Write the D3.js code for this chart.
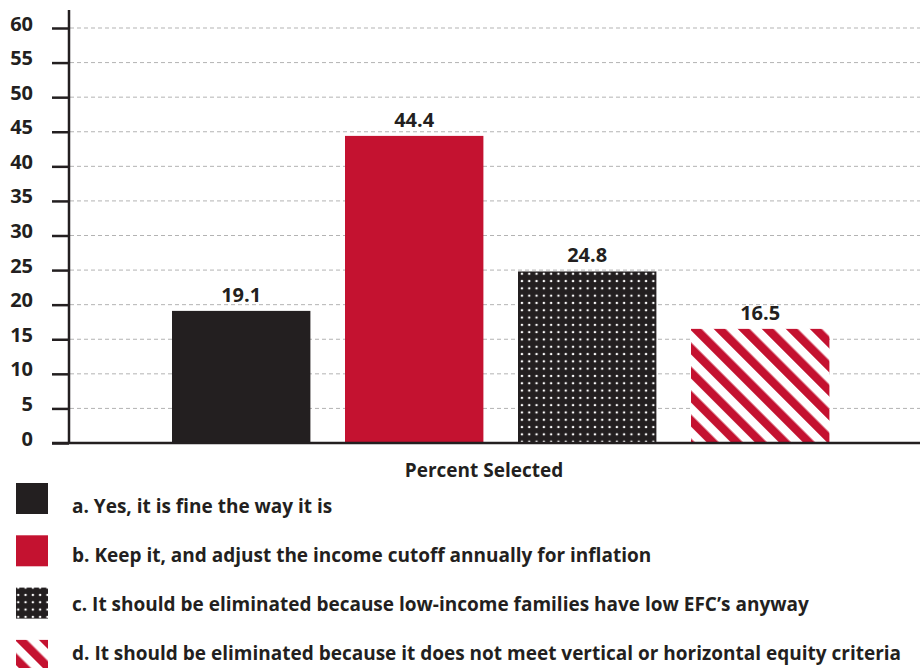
<!DOCTYPE html>
<html>
<head>
<meta charset="utf-8">
<script src="https://cdn.jsdelivr.net/npm/d3@7/dist/d3.min.js"></script>
<style>
  html, body { margin: 0; padding: 0; background: #fff; }
  svg { display: block; font-family: "Open Sans", "Noto Sans", sans-serif; font-weight: 700; }
</style>
</head>
<body>
<svg id="chart" width="922" height="668"></svg>
<script>
// Survey responses: percent selecting each option
const categories = ["a", "b", "c", "d"];
const values = [19.1, 44.4, 24.8, 16.5];
const legendLabels = [
  "a. Yes, it is fine the way it is",
  "b. Keep it, and adjust the income cutoff annually for inflation",
  "c. It should be eliminated because low-income families have low EFC\u2019s anyway",
  "d. It should be eliminated because it does not meet vertical or horizontal equity criteria"
];
const yTicks = [0, 5, 10, 15, 20, 25, 30, 35, 40, 45, 50, 55, 60];
const axisTitle = "Percent Selected";

const INK = "#231f20";
const RED = "#c41230";

const svg = d3.select("#chart");
const defs = svg.append("defs");

// White dots on black
const dots = defs.append("pattern")
  .attr("id", "dots").attr("patternUnits", "userSpaceOnUse")
  .attr("width", 7.3).attr("height", 7.3);
dots.append("rect").attr("width", 7.3).attr("height", 7.3).attr("fill", INK);
dots.append("circle").attr("cx", 3.65).attr("cy", 3.65).attr("r", 1.25).attr("fill", "#fff");

// Red / white diagonal stripes
const stripes = defs.append("pattern")
  .attr("id", "stripes").attr("patternUnits", "userSpaceOnUse")
  .attr("width", 17).attr("height", 17)
  .attr("patternTransform", "rotate(-45)");
stripes.append("rect").attr("width", 17).attr("height", 17).attr("fill", "#fff");
stripes.append("rect").attr("width", 8.5).attr("height", 17).attr("fill", RED);

const fills = [INK, RED, "url(#dots)", "url(#stripes)"];

const axisX = 69, rightX = 920;
const y = d3.scaleLinear().domain([0, 60]).range([443, 28]);
const x = d3.scaleBand().domain(categories).range([154.7, 846.7])
  .paddingInner(0.2).paddingOuter(0.1);

// Dashed gridlines
svg.append("g").selectAll("line")
  .data(yTicks.filter(d => d > 0))
  .join("line")
  .attr("x1", axisX + 1).attr("x2", rightX)
  .attr("y1", d => y(d)).attr("y2", d => y(d))
  .attr("stroke", "#b3b3b3").attr("stroke-width", 1)
  .attr("stroke-dasharray", "4,3");

// Bars
svg.append("g").selectAll("rect")
  .data(values)
  .join("rect")
  .attr("x", (d, i) => x(categories[i]))
  .attr("width", x.bandwidth())
  .attr("y", d => y(d))
  .attr("height", d => y(0) - y(d))
  .attr("fill", (d, i) => fills[i]);

// Value labels
svg.append("g").selectAll("text")
  .data(values)
  .join("text")
  .attr("x", (d, i) => x(categories[i]) + x.bandwidth() / 2)
  .attr("y", d => y(d) - 9)
  .attr("text-anchor", "middle")
  .attr("font-size", 20)
  .attr("fill", INK)
  .text(d => d.toFixed(1));

// Y axis
const yAxis = d3.axisLeft(y).tickValues(yTicks).tickSize(17).tickPadding(19)
  .tickFormat(d3.format("d"));
const gy = svg.append("g").attr("transform", `translate(${axisX},0)`).call(yAxis);
gy.select(".domain").remove();
gy.selectAll(".tick line").attr("stroke", INK).attr("stroke-width", 2.5);
gy.selectAll(".tick text")
  .attr("font-size", 20).attr("font-family", "Open Sans, Noto Sans, sans-serif")
  .attr("font-weight", 700).attr("fill", INK).attr("dy", "0.1em");
gy.append("line").attr("x1", 0).attr("x2", 0).attr("y1", 10).attr("y2", y(0) + 1)
  .attr("stroke", INK).attr("stroke-width", 2.5);

// Baseline
svg.append("line").attr("x1", 52).attr("x2", rightX)
  .attr("y1", y(0)).attr("y2", y(0))
  .attr("stroke", INK).attr("stroke-width", 2.5);

// Axis title
svg.append("text").attr("x", 484).attr("y", 477)
  .attr("text-anchor", "middle").attr("font-size", 19).attr("fill", INK)
  .text(axisTitle);

// Legend
const legend = svg.append("g").selectAll("g")
  .data(legendLabels)
  .join("g");
legend.append("rect")
  .attr("x", 16).attr("y", (d, i) => 483 + i * 52.3)
  .attr("width", 32).attr("height", 31)
  .attr("fill", (d, i) => fills[i]);
legend.append("text")
  .attr("x", 72).attr("y", (d, i) => 513 + i * 49)
  .attr("font-size", 19).attr("fill", INK)
  .text(d => d);
</script>
</body>
</html>
